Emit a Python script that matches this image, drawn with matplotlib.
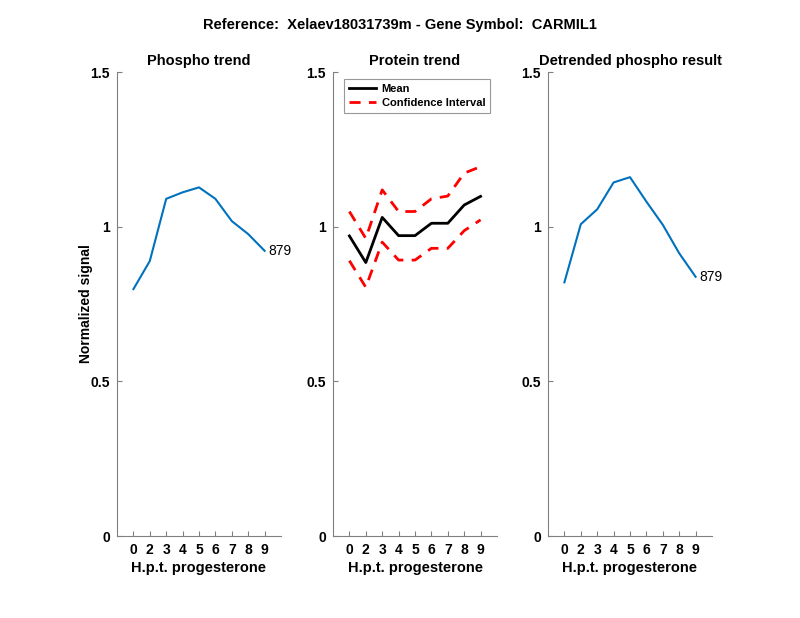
import matplotlib
matplotlib.use("Agg")
import matplotlib.pyplot as plt

plt.rcParams['font.family'] = ['Liberation Sans', 'DejaVu Sans']

# x categories (hours post progesterone)
hours = ['0', '2', '3', '4', '5', '6', '7', '8', '9']
pos = list(range(1, len(hours) + 1))

phospho = [0.798, 0.889, 1.090, 1.111, 1.127, 1.090, 1.018, 0.976, 0.922]
protein_mean = [0.970, 0.884, 1.030, 0.971, 0.971, 1.011, 1.011, 1.070, 1.098]
protein_upper = [1.049, 0.962, 1.119, 1.049, 1.049, 1.090, 1.099, 1.173, 1.194]
protein_lower = [0.890, 0.804, 0.950, 0.892, 0.892, 0.930, 0.930, 0.987, 1.022]
detrended = [0.820, 1.008, 1.056, 1.143, 1.160, 1.081, 1.006, 0.914, 0.838]
peptide_id = '879'

blue = '#0072BD'
grey = '#808080'

fig = plt.figure(figsize=(8, 6.18), dpi=100)

lefts = [117 / 800, 333 / 800, 548 / 800]
w = 164 / 800
bottom = (618 - 536) / 618
h = (536 - 72) / 618
axes = [fig.add_axes([l, bottom, w, h]) for l in lefts]


def style(ax, title):
    ax.set_xlim(0, 10)
    ax.set_ylim(0, 1.5)
    ax.set_xticks(pos)
    ax.set_xticklabels(hours, fontweight='bold', fontsize=10)
    ax.set_yticks([0, 0.5, 1, 1.5])
    ax.set_yticklabels(['0', '0.5', '1', '1.5'], fontweight='bold', fontsize=10)
    for s in ['top', 'right']:
        ax.spines[s].set_visible(False)
    for s in ['left', 'bottom']:
        ax.spines[s].set_color(grey)
        ax.spines[s].set_linewidth(0.8)
    ax.tick_params(direction='in', length=3.5, color=grey, width=0.8, pad=5)
    ax.set_title(title, fontweight='bold', fontsize=10.5, pad=5)
    ax.set_xlabel('H.p.t. progesterone', fontweight='bold', fontsize=10.5, labelpad=3)


# Phospho trend
ax = axes[0]
ax.plot(pos, phospho, color=blue, lw=1.5)
ax.text(pos[-1] + 0.25, phospho[-1], peptide_id, va='center', ha='left', fontsize=10)
style(ax, 'Phospho trend')
ax.set_ylabel('Normalized signal', fontweight='bold', fontsize=10, labelpad=-2)

# Protein trend
ax = axes[1]
ax.plot(pos, protein_mean, color='black', lw=2, label='Mean')
ax.plot(pos, protein_upper, color='red', lw=2, ls=(0, (4, 3)), label='Confidence Interval')
ax.plot(pos, protein_lower, color='red', lw=2, ls=(0, (4, 3)))
style(ax, 'Protein trend')
leg = ax.legend(loc='upper left', bbox_to_anchor=(0.07, 0.985),
                prop={'weight': 'bold', 'size': 8}, frameon=True, fancybox=False,
                borderpad=0.45, handlelength=2.4, handletextpad=0.5,
                labelspacing=0.35, borderaxespad=0)
leg.get_frame().set_edgecolor(grey)
leg.get_frame().set_linewidth(0.8)

# Detrended phospho result
ax = axes[2]
ax.plot(pos, detrended, color=blue, lw=1.5)
ax.text(pos[-1] + 0.25, detrended[-1], peptide_id, va='center', ha='left', fontsize=10)
style(ax, 'Detrended phospho result')

fig.text(0.5, 1 - 25 / 618, 'Reference:  Xelaev18031739m - Gene Symbol:  CARMIL1',
         ha='center', va='center', fontweight='bold', fontsize=10.5)

fig.savefig('out.png', dpi=100)
